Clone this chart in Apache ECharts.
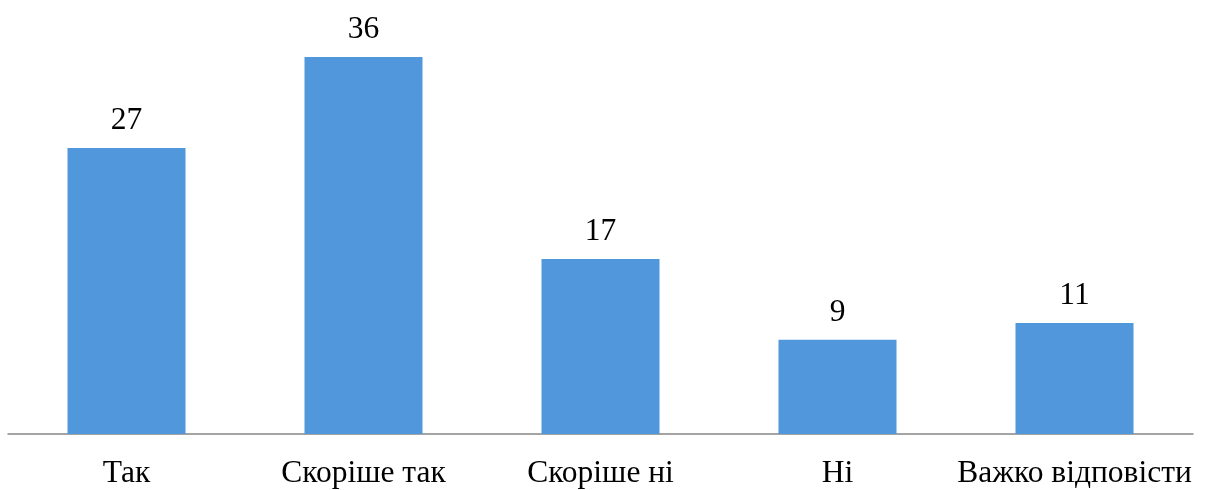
<!DOCTYPE html>
<html>
<head>
<meta charset="utf-8">
<script src="https://cdn.jsdelivr.net/npm/echarts@6/dist/echarts.min.js"></script>
<style>html,body{margin:0;padding:0;background:#fff}#c{width:1206px;height:490px}</style>
</head>
<body>
<div id="c"></div>
<script>
const categories = ['Так', 'Скоріше так', 'Скоріше ні', 'Ні', 'Важко відповісти'];
const values = [27.3, 36.0, 16.7, 9.0, 10.6];

const chart = echarts.init(document.getElementById('c'), null, {renderer: 'canvas'});
chart.setOption({
  animation: false,
  grid: {left: 8, right: 13, top: 15, bottom: 55, containLabel: false},
  xAxis: {
    type: 'category',
    data: categories,
    axisLine: {lineStyle: {color: '#878787', width: 1.5}},
    axisTick: {show: false},
    axisLabel: {
      interval: 0,
      fontFamily: 'Liberation Serif', fontSize: 31.5, color: '#000', margin: 24
    }
  },
  yAxis: {
    type: 'value', min: 0, max: 40,
    show: false,
    splitLine: {show: false}
  },
  series: [{
    type: 'bar',
    data: values,
    barWidth: 118,
    itemStyle: {color: '#5097DB'},
    label: {
      show: true, position: 'top', distance: 11,
      fontFamily: 'Liberation Serif', fontSize: 31.5, color: '#000',
      formatter: p => String(Math.round(p.value))
    }
  }]
});
</script>
</body>
</html>
